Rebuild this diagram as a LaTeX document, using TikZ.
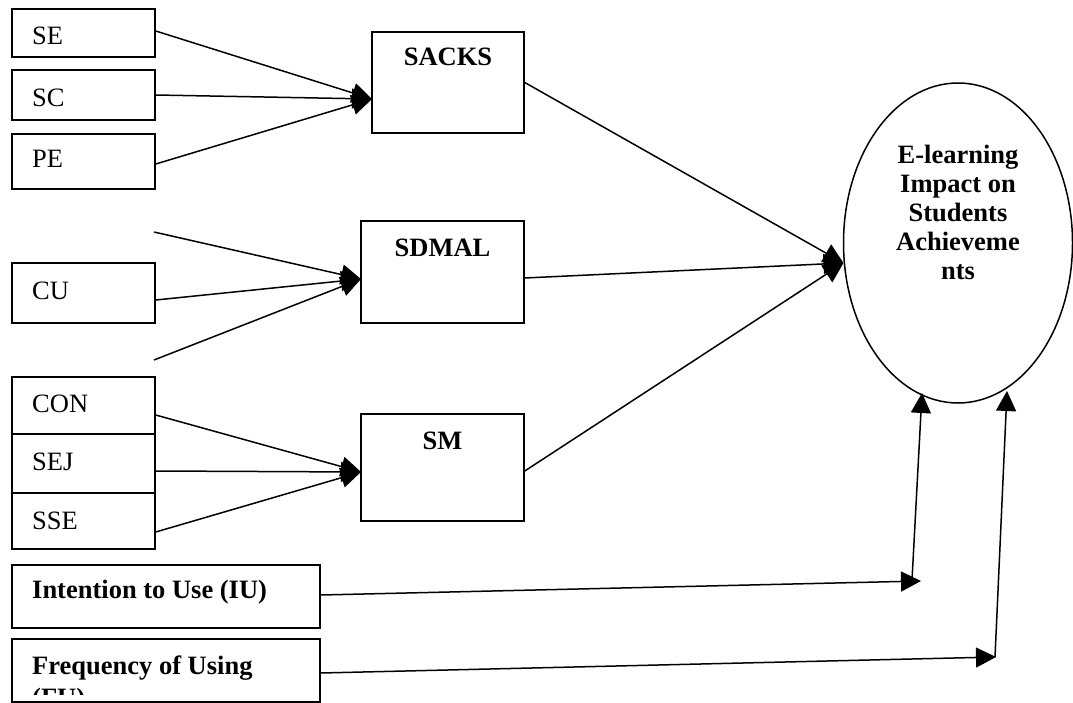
\documentclass[tikz,border=0pt]{standalone}
\usepackage{fontspec}
\setmainfont{Liberation Serif}
\usetikzlibrary{arrows.meta,shapes.geometric,calc}
\begin{document}
\begin{tikzpicture}[x=1pt,y=-1pt,
  every node/.style={font=\fontsize{26.5}{29}\selectfont},
  box/.style={draw, line width=1.5pt, inner sep=0pt, minimum width=143pt},
  wbox/.style={draw, line width=1.5pt, inner sep=0pt, minimum width=308pt},
  mbox/.style={draw, line width=1.5pt, inner sep=0pt, minimum width=163pt},
  txt/.style={anchor=base west, inner sep=0pt},
  ttl/.style={anchor=base, inner sep=0pt, font=\fontsize{26.5}{29}\selectfont\bfseries},
  arr/.style={line width=1.5pt, -{Triangle[length=20pt,width=20pt]}}
]
\useasboundingbox (0,0) rectangle (1073,703);

% left boxes
\node[box, minimum height=48pt] (se)  at (83.5,33) {};
\node[box, minimum height=50pt] (sc)  at (83.5,95) {};
\node[box, minimum height=55pt] (pe)  at (83.5,161.5) {};
\node[box, minimum height=60pt] (cu)  at (83.5,293) {};
\node[box, minimum height=57pt] (con) at (83.5,405.5) {};
\node[box, minimum height=59pt] (sej) at (83.5,463.5) {};
\node[box, minimum height=56pt] (sse) at (83.5,521) {};
\node[txt] (set)  at (32,45)  {SE};
\node[txt] (sct)  at (32,107) {SC};
\node[txt] (pet)  at (32,168) {PE};
\node[txt] (cut)  at (32,299) {CU};
\node[txt] (cont) at (32,412) {CON};
\node[txt] (sejt) at (32,470) {SEJ};
\node[txt] (sset) at (32,529) {SSE};

% bottom boxes
\node[wbox, minimum height=63pt] (iu) at (166,596.5) {};
\node[txt, font=\fontsize{26.5}{29}\selectfont\bfseries] (iut) at (32,598) {Intention to Use (IU)};
\node[wbox, minimum height=63pt] (fu) at (166,670.5) {};
\begin{scope}
  \clip (12,639) rectangle (320,694);
  \node[txt, font=\fontsize{26.5}{29}\selectfont\bfseries] (fut1) at (32,674) {Frequency of Using};
  \node[txt, font=\fontsize{26.5}{29}\selectfont\bfseries] (fut2) at (32,706) {(FU)};
\end{scope}

% middle boxes
\node[draw, line width=1.5pt, inner sep=0pt, minimum width=152pt, minimum height=101pt] (sacks) at (448,82.5) {};
\node[ttl] (sackst) at (448,66) {SACKS};
\node[mbox, minimum height=102pt] (sdmal) at (442.5,272) {};
\node[ttl] (sdmalt) at (442.5,257) {SDMAL};
\node[mbox, minimum height=107pt] (sm) at (442.5,467.5) {};
\node[ttl] (smt) at (442.5,449) {SM};

% ellipse
\node[draw, ellipse, line width=1.5pt, inner sep=0pt, minimum width=229pt, minimum height=320pt] (eli) at (958,243) {};
\node[anchor=north, align=center, inner sep=0pt, font=\fontsize{26.5}{29}\selectfont\bfseries] (elit) at (958,145) {E-learning\\Impact on\\Students\\Achieveme\\nts};

% connector coordinates
\coordinate (sin) at (372,99);
\coordinate (din) at (361,279);
\coordinate (min) at (361,472);
\coordinate (ein) at (843.5,263);
\coordinate (ftop) at (154,232);
\coordinate (fbot) at (154,360);
\coordinate (iuc) at (921,581);
\coordinate (iub) at (912,580);
\coordinate (iutop) at (922,393);
\coordinate (fuc) at (996,657);
\coordinate (fub) at (995,657);
\coordinate (futop) at (1007,391);

% SACKS inputs
\draw[arr] ($(se.east)+(0,-2)$) -- (sin);
\draw[arr] (sc.east) -- (sin);
\draw[arr] ($(pe.east)+(0,2.5)$) -- (sin);
% SDMAL inputs
\draw[arr] (ftop) -- (din);
\draw[arr] ($(cu.east)+(0,7)$) -- (din);
\draw[arr] (fbot) -- (din);
% SM inputs
\draw[arr] ($(con.east)+(0,9.5)$) -- (min);
\draw[arr] ($(sej.east)+(0,7.5)$) -- (min);
\draw[arr] ($(sse.east)+(0,11)$) -- (min);
% to ellipse
\draw[arr] (sacks.east) -- (ein);
\draw[arr] ($(sdmal.east)+(0,6)$) -- (ein);
\draw[arr] ($(sm.east)+(0,3.5)$) -- (ein);
% IU and FU
\draw[arr] ($(iu.east)+(0,-1.5)$) -- (iuc);
\draw[arr] (iub) -- (iutop);
\draw[arr] ($(fu.east)+(0,2.5)$) -- (fuc);
\draw[arr] (fub) -- (futop);
\end{tikzpicture}
\end{document}
